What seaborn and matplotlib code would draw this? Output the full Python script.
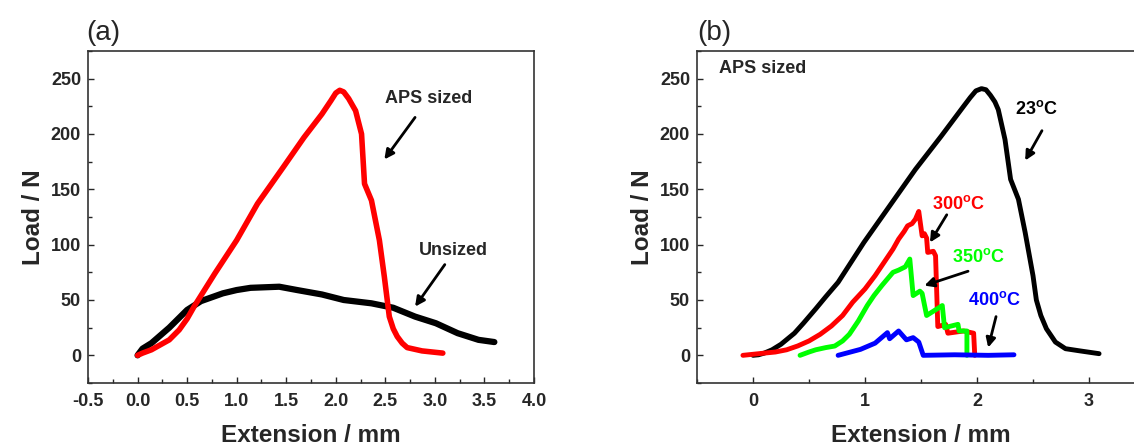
import seaborn as sns
import matplotlib.pyplot as plt
import pandas as pd
from matplotlib.ticker import MultipleLocator

# panel (a): unsized vs APS sized
unsized_x = [0.0, 0.05, 0.14, 0.32, 0.50, 0.64, 0.86, 1.0, 1.14, 1.43, 1.61, 1.86, 2.08, 2.36, 2.58, 2.80,
             3.01, 3.23, 3.44, 3.60]
unsized_y = [0, 6, 11, 25, 41, 49, 56, 59, 61, 62, 59, 55, 50, 47, 43, 35,
             29, 20, 14, 12]
aps_x = [0.0, 0.05, 0.14, 0.22, 0.32, 0.42, 0.50, 0.57, 0.78, 1.0, 1.21, 1.47, 1.68, 1.86, 1.95, 2.0, 2.04,
         2.08, 2.13, 2.20, 2.26, 2.29, 2.36, 2.44, 2.49, 2.54, 2.58, 2.62, 2.67, 2.72, 2.87, 3.08]
aps_y = [0, 2, 5, 9, 14, 23, 33, 44, 74, 104, 137, 170, 197, 218, 230, 237, 239.5,
         238, 232, 221, 200, 155, 140, 104, 71, 35, 24, 17, 11, 7, 4, 2]

# panel (b): APS sized at different temperatures
t23_x = [0.0, 0.05, 0.10, 0.17, 0.25, 0.37, 0.45, 0.56, 0.65, 0.76, 0.99, 1.22, 1.45, 1.68, 1.88, 1.94,
         1.99, 2.04, 2.08, 2.12, 2.16, 2.19, 2.25, 2.30, 2.37, 2.43, 2.50, 2.53, 2.57, 2.62, 2.70,
         2.79, 2.92, 3.09]
t23_y = [0, 0.5, 2, 5, 10, 20, 29, 42, 53, 66, 102, 135, 168, 198, 225, 233,
         239, 241, 240, 235, 229, 222, 195, 159, 141, 111, 72, 50, 36, 24, 12,
         6, 4, 1.5]
t300_x = [-0.09, 0.10, 0.20, 0.30, 0.40, 0.50, 0.60, 0.70, 0.80, 0.89, 1.0, 1.09, 1.17, 1.25, 1.30, 1.35,
          1.38, 1.42, 1.45, 1.48, 1.51, 1.53, 1.55, 1.56, 1.61, 1.63, 1.65, 1.72, 1.74, 1.88, 1.97, 1.98]
t300_y = [0, 2, 3, 5, 8.5, 13, 19, 26.5, 36, 48, 60, 72, 84, 96, 105, 112,
          117, 119, 123, 130, 108, 110, 106, 93, 94, 90, 26, 28, 20, 22, 20, 0]
t350_x = [0.42, 0.50, 0.56, 0.65, 0.73, 0.80, 0.86, 0.94, 1.02, 1.08, 1.15, 1.20, 1.25, 1.30, 1.32, 1.36,
          1.40, 1.43, 1.49, 1.51, 1.55, 1.69, 1.71, 1.83, 1.84, 1.91, 1.91]
t350_y = [0, 3, 5, 7, 8.4, 13, 19, 31, 45, 54, 63, 69, 75, 77, 78, 80,
          87, 54, 58, 56, 36, 45, 25, 28, 22, 22, 0]
t400_x = [0.76, 0.96, 1.09, 1.20, 1.22, 1.30, 1.37, 1.43, 1.48, 1.52, 1.80, 2.10, 2.33]
t400_y = [0, 5.4, 11, 20.5, 15, 22, 14, 16, 12, 0, 0.5, 0, 0.5]

sns.set_style('ticks')
plt.rcParams['font.family'] = ['Liberation Sans', 'DejaVu Sans']
plt.rcParams['mathtext.fontset'] = 'custom'
plt.rcParams['mathtext.bf'] = 'Liberation Sans:bold'
plt.rcParams['mathtext.rm'] = 'Liberation Sans:bold'
plt.rcParams['xtick.direction'] = 'in'
plt.rcParams['ytick.direction'] = 'in'

fig = plt.figure(figsize=(11.34, 4.48), dpi=100)
ax1 = fig.add_axes([88 / 1134, 65 / 448, 446 / 1134, 332 / 448])
ax2 = fig.add_axes([697 / 1134, 65 / 448, 448 / 1134, 332 / 448])

arrow = dict(arrowstyle='-|>', color='black', lw=2, mutation_scale=14, shrinkA=0, shrinkB=0)
txt = dict(fontsize=13, fontweight='bold', ha='center', va='center')


def style(ax, xmaj, xmin):
    ax.set_ylim(-25, 275)
    ax.yaxis.set_major_locator(MultipleLocator(50))
    ax.yaxis.set_minor_locator(MultipleLocator(25))
    ax.xaxis.set_major_locator(MultipleLocator(xmaj))
    ax.xaxis.set_minor_locator(MultipleLocator(xmin))
    ax.tick_params(which='major', length=4.5, width=1, labelsize=13, pad=7)
    ax.tick_params(axis='y', which='major', pad=5)
    ax.tick_params(which='minor', length=3, width=1)
    for lab in ax.get_xticklabels() + ax.get_yticklabels():
        lab.set_fontweight('bold')
    for sp in ax.spines.values():
        sp.set_linewidth(1.2)
        sp.set_color('#333333')
    ax.set_xlabel('Extension / mm', fontsize=17.5, fontweight='bold', labelpad=10)
    ax.set_ylabel('Load / N', fontsize=17.5, fontweight='bold', labelpad=4)


# (a)
df_u = pd.DataFrame({'x': unsized_x, 'y': unsized_y})
df_a = pd.DataFrame({'x': aps_x, 'y': aps_y})
sns.lineplot(data=df_u, x='x', y='y', ax=ax1, color='black', lw=4.5, sort=False, estimator=None)
sns.lineplot(data=df_a, x='x', y='y', ax=ax1, color='#ff0000', lw=4, sort=False, estimator=None)
ax1.set_xlim(-0.5, 4.0)
style(ax1, 0.5, 0.25)
ax1.xaxis.set_major_formatter(plt.FormatStrFormatter('%.1f'))
for lab in ax1.get_xticklabels():
    lab.set_fontweight('bold')
ax1.text(2.94, 232, 'APS sized', **txt)
ax1.annotate('', xy=(2.49, 177), xytext=(2.80, 215), arrowprops=arrow)
ax1.text(3.19, 95, 'Unsized', **txt)
ax1.annotate('', xy=(2.80, 44), xytext=(3.10, 82), arrowprops=arrow)
fig.text(86 / 1134, 1 - 40 / 448, '(a)', fontsize=20, ha='left', va='baseline')

# (b)
curves = [(t23_x, t23_y, 'black'), (t300_x, t300_y, '#ff0000'),
          (t350_x, t350_y, '#00ff00'), (t400_x, t400_y, '#0000ff')]
for xs, ys, c in curves:
    d = pd.DataFrame({'x': xs, 'y': ys})
    sns.lineplot(data=d, x='x', y='y', ax=ax2, color=c, lw=3.5, sort=False, estimator=None)
ax2.set_xlim(-0.5, 3.5)
style(ax2, 1, 0.5)
ax2.text(-0.30, 259, 'APS sized', fontsize=13, fontweight='bold', ha='left', va='center')
ax2.text(2.53, 223, r'23$^{\mathbf{o}}$C', color='black', **txt)
ax2.annotate('', xy=(2.43, 176), xytext=(2.58, 203), arrowprops=arrow)
ax2.text(1.83, 137, r'300$^{\mathbf{o}}$C', color='#ff0000', **txt)
ax2.annotate('', xy=(1.58, 102), xytext=(1.73, 127), arrowprops=arrow)
ax2.text(2.01, 89, r'350$^{\mathbf{o}}$C', color='#00ff00', **txt)
ax2.annotate('', xy=(1.53, 63), xytext=(1.92, 76), arrowprops=arrow)
ax2.text(2.16, 50, r'400$^{\mathbf{o}}$C', color='#0000ff', **txt)
ax2.annotate('', xy=(2.10, 7), xytext=(2.17, 35), arrowprops=arrow)
fig.text(697 / 1134, 1 - 40 / 448, '(b)', fontsize=20, ha='left', va='baseline')

fig.savefig('out.png', dpi=100)
